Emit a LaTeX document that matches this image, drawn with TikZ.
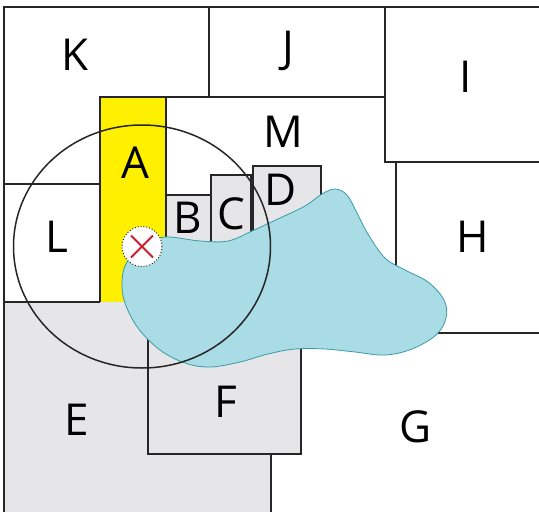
\documentclass[tikz,border=0pt]{standalone}
\usepackage{fontspec}
\setmainfont{Open Sans}
\definecolor{areagray}{HTML}{E6E6E8}
\definecolor{areayellow}{HTML}{FFF000}
\definecolor{lakefill}{HTML}{A9DCE4}
\definecolor{lakeline}{HTML}{3A9AAB}
\definecolor{crossred}{HTML}{C8202F}
\begin{document}
\begin{tikzpicture}[x=1pt,y=-1pt,
    wall/.style={draw=black!85,line width=1.4pt},
    field/.style={fill=areagray},
    tag/.style={inner sep=0pt,font=\fontsize{44}{48}\selectfont}]
  \useasboundingbox (0,0) rectangle (539,512);
  % fills and small boxes
  \fill[field] (4,302) rectangle (271,512);
  \fill[areayellow] (100,97) rectangle (166,302);
  \draw[wall,field] (148,330) rectangle (301,454);
  \draw[wall,field] (166,195) rectangle (211,260);
  \draw[wall,field] (211,175) rectangle (251,260);
  \draw[wall,field] (253,166) rectangle (321,250);
  % plot borders
  \draw[wall] (539,7) -- (4,7) -- (4,512);
  \draw[wall] (209,7) -- (209,97);
  \draw[wall] (385,7) -- (385,162) -- (539,162);
  \draw[wall] (100,302) -- (100,97) -- (385,97);
  \draw[wall] (166,97) -- (166,200);
  \draw[wall] (4,184) -- (100,184);
  \draw[wall] (4,302) -- (100,302);
  \draw[wall] (396,162) -- (396,280);
  \draw[wall] (420,333) -- (539,333);
  \draw[wall] (271,454) -- (271,512);
  % lake
  \draw[fill=lakefill,draw=lakeline,line width=0.8pt]
    plot[smooth cycle,tension=0.6] coordinates {
      (145,246) (165,237) (200,241) (228,241) (252,231) (280,218)
      (305,206) (322,194) (335,189) (347,195) (357,213) (368,234)
      (385,258) (405,270) (428,282) (444,300) (446,318) (436,335)
      (412,349) (385,355) (355,352) (325,349) (295,349) (268,354)
      (240,362) (210,367) (185,363) (160,350) (138,328) (125,303)
      (122,282) (127,262)};
  % range circle and its centre
  \coordinate (pin) at (142,246.5);
  \draw[black!85,line width=1.5pt] (pin) ellipse [x radius=128.5pt,y radius=121.5pt];
  \draw[dotted,line width=0.9pt,fill=white] (pin) circle [radius=20pt];
  \draw[crossred,line width=2pt] ([shift={(-11,-11)}]pin) -- ([shift={(11,11)}]pin);
  \draw[crossred,line width=2pt] ([shift={(-11,11)}]pin) -- ([shift={(11,-11)}]pin);
  % labels
  \node[tag] (K) at (75,55) {K};
  \node[tag] (J) at (288,51) {J};
  \node[tag] (I) at (466,77) {I};
  \node[tag] (M) at (283,132) {M};
  \node[tag] (A) at (135,163) {A};
  \node[tag] (L) at (57,237) {L};
  \node[tag] (B) at (188,218) {B};
  \node[tag] (C) at (231,214) {C};
  \node[tag] (D) at (281,190) {D};
  \node[tag] (H) at (473,237) {H};
  \node[tag] (E) at (77,420) {E};
  \node[tag] (F) at (226,402) {F};
  \node[tag] (G) at (416,427) {G};
\end{tikzpicture}
\end{document}
